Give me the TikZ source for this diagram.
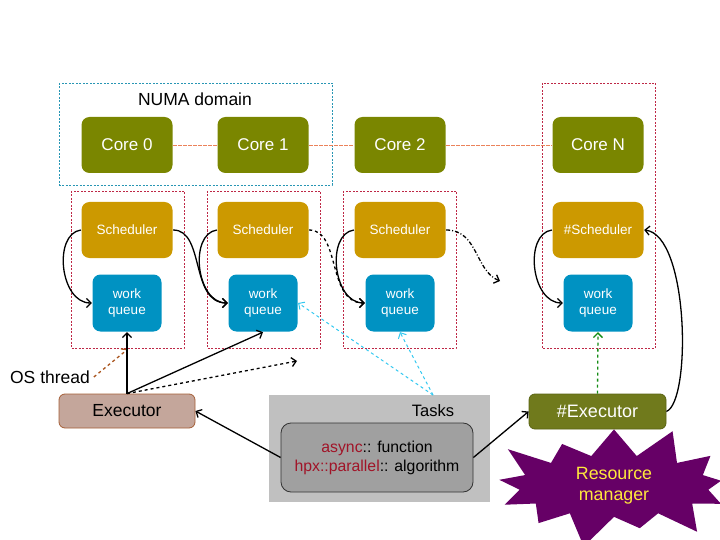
\documentclass[tikz,border=0pt]{standalone}
\usepackage{fontspec}
\setmainfont{Liberation Sans}
\usetikzlibrary{shapes.symbols,arrows.meta}

\definecolor{coregreen}{RGB}{122,134,0}
\definecolor{schedgold}{RGB}{204,153,0}
\definecolor{wqblue}{RGB}{0,146,194}
\definecolor{numacyan}{RGB}{40,150,180}
\definecolor{boxred}{RGB}{190,40,70}
\definecolor{linkorange}{RGB}{235,130,90}
\definecolor{exefill}{RGB}{196,166,155}
\definecolor{exedraw}{RGB}{165,95,55}
\definecolor{nexefill}{RGB}{112,122,28}
\definecolor{nexedraw}{RGB}{90,100,20}
\definecolor{taskgray}{RGB}{192,192,192}
\definecolor{alggray}{RGB}{160,160,160}
\definecolor{algred}{RGB}{160,20,40}
\definecolor{osbrown}{RGB}{170,85,30}
\definecolor{taskcyan}{RGB}{50,200,240}
\definecolor{rmgreen}{RGB}{20,140,20}
\definecolor{rmpurple}{RGB}{102,0,102}
\definecolor{rmyellow}{RGB}{255,232,60}

\tikzset{every picture/.style={line width=1.3pt}}
\tikzset{
  core/.style={fill=coregreen, rounded corners=8pt, minimum width=91pt, minimum height=56pt, text=white, font=\fontsize{17}{20}\selectfont},
  sched/.style={fill=schedgold, rounded corners=8pt, minimum width=91pt, minimum height=56pt, text=white, font=\fontsize{13.5}{16}\selectfont},
  wq/.style={fill=wqblue, rounded corners=8pt, minimum width=69pt, minimum height=57pt, text=white, align=center, font=\fontsize{13.5}{16}\selectfont},
  redbox/.style={draw=boxred, line width=0.8pt, dash pattern={on 2pt off 1.5pt}},
  >={Straight Barb[length=4.5pt,width=9pt]}
}

\begin{document}
\begin{tikzpicture}[x=1pt,y=1pt,yscale=-1,xscale=1]
\useasboundingbox (0,0) rectangle (720,540);

%Shape: Rectangle NUMA domain
\draw [draw=numacyan, line width=0.8pt, dash pattern={on 2pt off 1.5pt}] (59,83) rectangle (332,185);
% Text Node
\node [font=\fontsize{17.5}{20}\selectfont] (numa) at (195,99) {NUMA domain};
%Shape: Rectangle per core
\foreach \x in {71,207,343} {
  \draw [redbox] (\x,191) rectangle ++(113,157);
}
\draw [redbox] (542,83) rectangle (655,348);

% Cores
\node [core] (c0) at (127,145) {Core 0};
\node [core] (c1) at (263,145) {Core 1};
\node [core] (c2) at (400,145) {Core 2};
\node [core] (cn) at (598,145) {Core N};
%Straight Lines between cores
\draw [draw=linkorange, line width=0.9pt, dash pattern={on 3.5pt off 1.5pt}] (c0) -- (c1) (c1) -- (c2) (c2) -- (cn);

% Schedulers
\node [sched] (s0) at (127,230) {Scheduler};
\node [sched] (s1) at (263,230) {Scheduler};
\node [sched] (s2) at (400,230) {Scheduler};
\node [sched] (sn) at (598,230) {\#Scheduler};

% Work queues
\node [wq] (q0) at (127,303) {work\\queue};
\node [wq] (q1) at (263,303) {work\\queue};
\node [wq] (q2) at (400,303) {work\\queue};
\node [wq] (qn) at (598,303) {work\\queue};

%Curve Lines scheduler to queue
\draw [->] (s0.west) .. controls +(-28,4) and +(-32,0) .. (q0.west);
\draw [->] (s1.west) .. controls +(-28,4) and +(-32,0) .. (q1.west);
\draw [->] (s2.west) .. controls +(-28,4) and +(-32,0) .. (q2.west);
\draw [->] (sn.west) .. controls +(-28,4) and +(-32,0) .. (qn.west);
\draw [->] (s0.east) .. controls +(32,0) and +(-38,0) .. (q1.west);
\draw [->, dashed] (s1.east) .. controls +(32,0) and +(-38,0) .. (q2.west);
\coordinate (sfree) at (500,281);
\draw [->, dash pattern={on 4pt off 2pt on 1pt off 2pt}] (s2.east) .. controls +(32,0) and +(-25,-10) .. (sfree);

% Executor
\node [fill=exefill, draw=exedraw, line width=0.8pt, rounded corners=6pt, minimum width=136pt, minimum height=34pt, font=\fontsize{17.5}{20}\selectfont] (exe) at (127,411) {Executor};
% Text Node
\node [font=\fontsize{17.5}{20}\selectfont] (osl) at (50,377) {OS thread};
\coordinate (osend) at (128,349);
\draw [->, draw=osbrown, dashed] (osl.east) -- (osend);
\coordinate (xfree) at (297,361);
\draw [->] (exe.north) -- (q0.south);
\draw [->] (exe.north) -- (q1.south);
\draw [->, dashed] (exe.north) -- (xfree);

% Tasks
\node [fill=taskgray, minimum width=221pt, minimum height=107pt] (tasks) at (379.5,448.5) {};
\node [font=\fontsize{16.5}{20}\selectfont] (tlabel) at (433,411) {Tasks};
\node [fill=alggray, draw=black!80, line width=0.8pt, rounded corners=10pt, minimum width=192pt, minimum height=69pt, align=center, font=\fontsize{15.8}{19}\selectfont] (alg) at (377,457.5) {\textcolor{algred}{async}:: function\\\textcolor{algred}{hpx::parallel}:: algorithm};
\coordinate (tk) at (433,395);
\draw [->, draw=taskcyan, line width=1pt, dashed] (tk) -- (q1.east);
\draw [->, draw=taskcyan, line width=1pt, dashed] (tk) -- (q2.south);

% #Executor
\node [fill=nexefill, draw=nexedraw, line width=0.8pt, rounded corners=6pt, minimum width=137pt, minimum height=35pt, text=white, font=\fontsize{18}{20}\selectfont] (nexe) at (597.5,411.5) {\#Executor};
\draw [->] (alg.west) -- (exe.east);
\draw [->] (alg.east) -- (nexe.west);
\draw [->, draw=rmgreen, dashed] (nexe.north) -- (qn.south);
\draw [->] (nexe.east) .. controls +(25,-10) and +(45,5) .. (sn.east);

% Resource manager
\node [starburst, fill=rmpurple, text=rmyellow, starburst points=13, starburst point height=36pt, minimum width=262pt, minimum height=114pt, align=center, font=\fontsize{17.8}{21}\selectfont] (rm) at (614,486) {Resource\\manager};

\end{tikzpicture}
\end{document}
